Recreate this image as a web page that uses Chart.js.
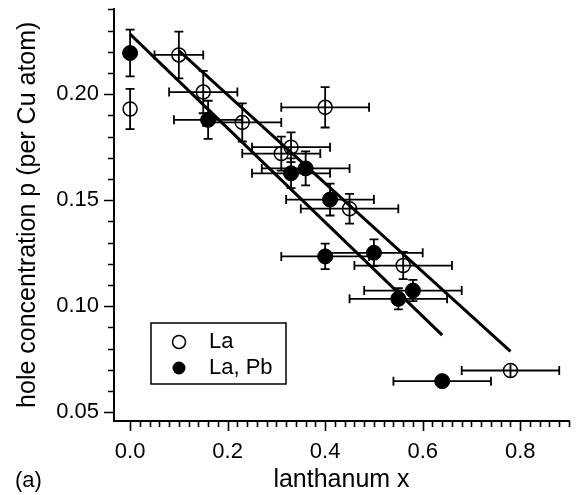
<!DOCTYPE html>
<html>
<head>
<meta charset="utf-8">
<script src="https://cdn.jsdelivr.net/npm/chart.js@4.4.1/dist/chart.umd.min.js"></script>
<style>
  html, body { margin: 0; padding: 0; background: #fff; }
  #wrap { width: 579px; height: 495px; }
</style>
</head>
<body>
<div id="wrap"><canvas id="holeChart" width="579" height="495"></canvas></div>
<script>
// La (open circles)
const laX    = [0.00, 0.10, 0.15, 0.23, 0.31, 0.33, 0.40, 0.45, 0.56, 0.78];
const laY    = [0.193, 0.2185, 0.201, 0.1867, 0.172, 0.175, 0.1938, 0.146, 0.1192, 0.0697];
const laXErr = [0, 0.05, 0.07, 0.08, 0.08, 0.08, 0.09, 0.10, 0.10, 0.10];
const laYErr = [0.0095, 0.011, 0.010, 0.009, 0.008, 0.007, 0.0095, 0.007, 0.0064, 0.003];

// La, Pb (filled circles)
const pbX    = [0.00, 0.16, 0.33, 0.36, 0.41, 0.40, 0.50, 0.58, 0.55, 0.64];
const pbY    = [0.2194, 0.1879, 0.1627, 0.165, 0.1503, 0.1235, 0.1252, 0.1074, 0.1035, 0.0647];
const pbXErr = [0, 0.07, 0.08, 0.09, 0.09, 0.09, 0.10, 0.10, 0.10, 0.10];
const pbYErr = [0.011, 0.009, 0.007, 0.008, 0.0075, 0.006, 0.0063, 0.005, 0.005, 0.002];

// straight lines (end points)
const fitLaX = [0.10, 0.78];
const fitLaY = [0.2205, 0.0787];
const fitPbX = [0.00, 0.64];
const fitPbY = [0.2283, 0.0864];

// axes
const xTicks = [0.0, 0.2, 0.4, 0.6, 0.8];
const yTicks = [0.05, 0.10, 0.15, 0.20];
const xMinorStep = 0.02, xMinorFrom = 0.0, xMinorTo = 0.90;
const yMinorStep = 0.01, yMinorFrom = 0.05, yMinorTo = 0.24;

const FONT = '"Liberation Sans", Arial, Helvetica, sans-serif';

const toPoints = (xs, ys) => xs.map((x, i) => ({ x, y: ys[i] }));

// fixed axis boxes, no extra label padding
const fixBox = size => s => {
  if (s.isHorizontal()) s.height = size; else s.width = size;
  s.paddingTop = s.paddingBottom = s.paddingLeft = s.paddingRight = 0;
};

// error bars, drawn under the markers
const errorBars = {
  id: 'errorBars',
  beforeDatasetsDraw(chart) {
    const { ctx, scales: { x, y } } = chart;
    ctx.save();
    ctx.strokeStyle = '#000';
    ctx.lineWidth = 1.8;
    const cap = 4.5;
    chart.data.datasets.forEach(ds => {
      if (!ds.xErr) return;
      ds.data.forEach((p, i) => {
        const px = x.getPixelForValue(p.x);
        const py = y.getPixelForValue(p.y);
        const ex = ds.xErr[i], ey = ds.yErr[i];
        ctx.beginPath();
        if (ex > 0) {
          const x1 = x.getPixelForValue(p.x - ex);
          const x2 = x.getPixelForValue(p.x + ex);
          ctx.moveTo(x1, py); ctx.lineTo(x2, py);
          ctx.moveTo(x1, py - cap); ctx.lineTo(x1, py + cap);
          ctx.moveTo(x2, py - cap); ctx.lineTo(x2, py + cap);
        }
        if (ey > 0) {
          const y1 = y.getPixelForValue(p.y + ey);
          const y2 = y.getPixelForValue(p.y - ey);
          ctx.moveTo(px, y1); ctx.lineTo(px, y2);
          if (ey > 0.004) {
            ctx.moveTo(px - cap, y1); ctx.lineTo(px + cap, y1);
            ctx.moveTo(px - cap, y2); ctx.lineTo(px + cap, y2);
          }
        }
        ctx.stroke();
      });
    });
    ctx.restore();
  }
};

// outward tick marks, legend box, panel label
const decorations = {
  id: 'decorations',
  afterDraw(chart) {
    const { ctx, scales: { x, y }, chartArea: a } = chart;
    ctx.save();
    ctx.strokeStyle = '#000';
    ctx.lineWidth = 1.6;
    const isMajor = (list, v) => list.some(t => Math.abs(t - v) < 1e-6);
    ctx.beginPath();
    for (let v = xMinorFrom; v <= xMinorTo + 1e-9; v += xMinorStep) {
      const px = Math.round(x.getPixelForValue(v)) + 0.5;
      ctx.moveTo(px, a.bottom);
      ctx.lineTo(px, a.bottom + (isMajor(xTicks, v) ? 10 : 6));
    }
    for (let v = yMinorFrom; v <= yMinorTo + 1e-9; v += yMinorStep) {
      const py = Math.round(y.getPixelForValue(v)) + 0.5;
      ctx.moveTo(a.left, py);
      ctx.lineTo(a.left - (isMajor(yTicks, v) ? 10 : 6), py);
    }
    ctx.stroke();

    // legend
    ctx.lineWidth = 1.5;
    ctx.strokeRect(151, 323, 135, 61);
    ctx.beginPath();
    ctx.arc(179, 342, 6.5, 0, Math.PI * 2);
    ctx.stroke();
    ctx.beginPath();
    ctx.arc(179, 368, 6.5, 0, Math.PI * 2);
    ctx.fillStyle = '#000';
    ctx.fill();
    ctx.font = '22px ' + FONT;
    ctx.textBaseline = 'middle';
    ctx.textAlign = 'left';
    ctx.fillText('La', 209, 342);
    ctx.fillText('La, Pb', 209, 368);

    // panel label
    ctx.fillText('(a)', 15, 481);
    ctx.restore();
  }
};

new Chart(document.getElementById('holeChart'), {
  type: 'scatter',
  data: {
    datasets: [
      {
        label: 'fit La',
        data: toPoints(fitLaX, fitLaY),
        showLine: true,
        borderColor: '#000',
        borderWidth: 3,
        pointRadius: 0
      },
      {
        label: 'fit La, Pb',
        data: toPoints(fitPbX, fitPbY),
        showLine: true,
        borderColor: '#000',
        borderWidth: 3,
        pointRadius: 0
      },
      {
        label: 'La',
        data: toPoints(laX, laY),
        xErr: laXErr,
        yErr: laYErr,
        pointRadius: 7,
        pointBorderWidth: 1.5,
        pointBorderColor: '#000',
        pointBackgroundColor: 'rgba(0,0,0,0)'
      },
      {
        label: 'La, Pb',
        data: toPoints(pbX, pbY),
        xErr: pbXErr,
        yErr: pbYErr,
        pointRadius: 7.5,
        pointBorderWidth: 1,
        pointBorderColor: '#000',
        pointBackgroundColor: '#000'
      }
    ]
  },
  options: {
    responsive: false,
    animation: false,
    events: [],
    layout: { padding: { top: 5, right: 10, left: 0, bottom: 0 } },
    plugins: {
      legend: { display: false },
      tooltip: { enabled: false }
    },
    scales: {
      x: {
        type: 'linear',
        min: -0.033,
        max: 0.90,
        afterBuildTicks: s => { s.ticks = xTicks.map(v => ({ value: v })); },
        afterFit: fixBox(74),
        grid: { display: false, drawTicks: false },
        border: { display: true, color: '#000', width: 2 },
        ticks: {
          color: '#000',
          padding: 18,
          maxRotation: 0,
          font: { family: FONT, size: 22 },
          callback: v => v.toFixed(1)
        },
        title: {
          display: true,
          text: 'lanthanum x',
          color: '#000',
          font: { family: FONT, size: 25 },
          padding: { top: 0, bottom: 0 }
        }
      },
      y: {
        type: 'linear',
        min: 0.0459,
        max: 0.2404,
        afterBuildTicks: s => { s.ticks = yTicks.map(v => ({ value: v })); },
        afterFit: fixBox(114),
        grid: { display: false, drawTicks: false },
        border: { display: true, color: '#000', width: 2 },
        ticks: {
          color: '#000',
          padding: 15,
          font: { family: FONT, size: 22 },
          callback: v => v.toFixed(2)
        },
        title: {
          display: true,
          text: 'hole concentration p (per Cu atom)',
          color: '#000',
          font: { family: FONT, size: 25 },
          padding: { top: 13, bottom: 0 }
        }
      }
    }
  },
  plugins: [errorBars, decorations]
});
</script>
</body>
</html>
